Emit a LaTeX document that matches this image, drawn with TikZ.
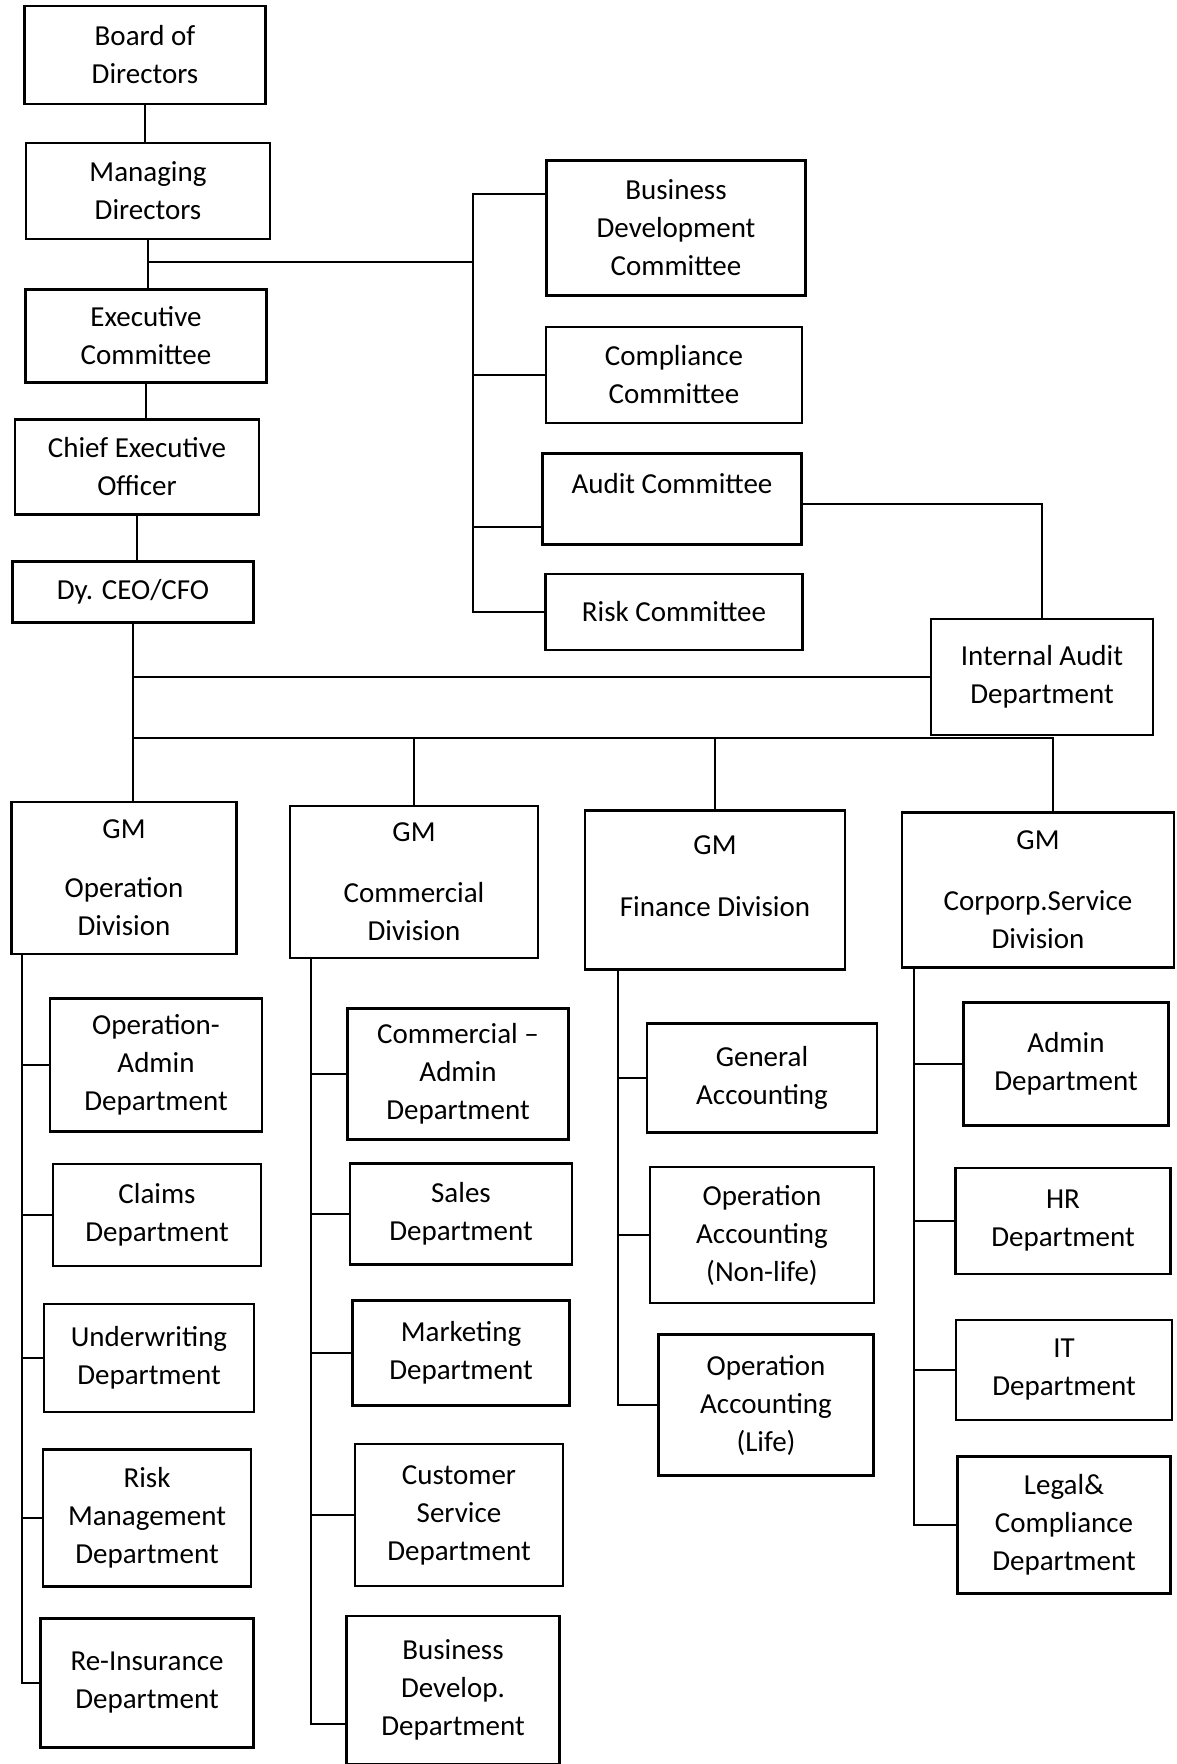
\documentclass[tikz,border=0pt]{standalone}
\usepackage{fontspec}
\setmainfont{Carlito}
\usepackage{tikz}

\begin{document}
\begin{tikzpicture}[x=1pt,y=-1pt,
    box/.style={draw,line width=2.6pt,align=center,inner sep=0pt,font=\fontsize{29}{38}\selectfont},
    wire/.style={line width=1.8pt}]
        \useasboundingbox (0,0) rectangle (1176,1764);
        \node[box,minimum width=241pt,minimum height=98pt] (bod) at (145,55) {Board of\\Directors};
        \node[box,minimum width=244pt,minimum height=96pt] (md) at (148,191) {Managing\\Directors};
        \node[box,minimum width=241pt,minimum height=93pt] (exec) at (146,336) {Executive\\Committee};
        \node[box,minimum width=244pt,minimum height=95pt] (ceo) at (137,467) {Chief Executive\\Officer};
        \node[box,minimum width=241pt,minimum height=61pt] (dyceo) at (133,592) {Dy. CEO/CFO};
        \node[box,minimum width=259pt,minimum height=135pt] (bdc) at (676,228) {Business\\Development\\Committee};
        \node[box,minimum width=256pt,minimum height=96pt] (comp) at (674,375) {Compliance\\Committee};
        \node[box,minimum width=259pt,minimum height=91pt,text depth=32pt] (audit) at (672,499) {Audit Committee};
        \node[box,minimum width=257pt,minimum height=76pt] (riskc) at (674,612) {Risk Committee};
        \node[box,minimum width=222pt,minimum height=116pt] (ia) at (1042,677) {Internal Audit\\Department};
        \node[box,minimum width=225pt,minimum height=152pt] (gmop) at (124,878) {GM\\[21pt]Operation\\Division};
        \node[box,minimum width=248pt,minimum height=152pt] (gmcom) at (414,882) {GM\\[23pt]Commercial\\Division};
        \node[box,minimum width=260pt,minimum height=159pt,text depth=28pt] (gmfin) at (715,890) {GM\\[24pt]Finance Division};
        \node[box,minimum width=272pt,minimum height=155pt] (gmcorp) at (1038,890) {GM\\[23pt]Corporp.Service\\Division};
        \node[box,minimum width=212pt,minimum height=133pt] (opadmin) at (156,1065) {Operation-\\Admin\\Department};
        \node[box,minimum width=208pt,minimum height=102pt] (claims) at (157,1215) {Claims\\Department};
        \node[box,minimum width=210pt,minimum height=108pt] (uw) at (149,1358) {Underwriting\\Department};
        \node[box,minimum width=208pt,minimum height=137pt] (riskm) at (147,1518) {Risk\\Management\\Department};
        \node[box,minimum width=213pt,minimum height=129pt] (reins) at (147,1683) {Re-Insurance\\Department};
        \node[box,minimum width=221pt,minimum height=131pt] (comadmin) at (458,1074) {Commercial –\\Admin\\Department};
        \node[box,minimum width=222pt,minimum height=101pt] (sales) at (461,1214) {Sales\\Department};
        \node[box,minimum width=217pt,minimum height=105pt] (mkt) at (461,1353) {Marketing\\Department};
        \node[box,minimum width=208pt,minimum height=142pt] (cs) at (459,1515) {Customer\\Service\\Department};
        \node[box,minimum width=213pt,minimum height=148pt] (bdev) at (453,1690) {Business\\Develop.\\Department};
        \node[box,minimum width=230pt,minimum height=109pt] (ga) at (762,1078) {General\\Accounting};
        \node[box,minimum width=224pt,minimum height=136pt] (oanl) at (762,1235) {Operation\\Accounting\\(Non-life)};
        \node[box,minimum width=215pt,minimum height=141pt] (oal) at (766,1405) {Operation\\Accounting\\(Life)};
        \node[box,minimum width=205pt,minimum height=123pt] (adm) at (1066,1064) {Admin\\Department};
        \node[box,minimum width=215pt,minimum height=106pt] (hr) at (1063,1221) {HR\\Department};
        \node[box,minimum width=216pt,minimum height=100pt] (it) at (1064,1370) {IT\\Department};
        \node[box,minimum width=213pt,minimum height=137pt] (legal) at (1064,1525) {Legal\&\\Compliance\\Department};
        \coordinate (cbus) at (473,262);
        \coordinate (gmbus) at (133,738);
        \draw[wire] (bod.south) -- (bod.south |- md.north);
        \draw[wire] (md.south) -- (md.south |- exec.north);
        \draw[wire] (exec.south) -- (exec.south |- ceo.north);
        \draw[wire] (ceo.south) -- (ceo.south |- dyceo.north);
        \draw[wire] (md.south |- cbus) -- (cbus);
        \draw[wire] ([yshift=34pt]bdc.west) -| (cbus) |- (riskc.west);
        \draw[wire] (comp.west) -- (comp.west -| cbus);
        \draw[wire] ([yshift=-28pt]audit.west) -- ([yshift=-28pt]audit.west -| cbus);
        \draw[wire] ([yshift=-5pt]audit.east) -| (ia.north);
        \draw[wire] (dyceo.south) -- (dyceo.south |- gmop.north);
        \draw[wire] (ia.west) -- (ia.west -| dyceo.south);
        \draw[wire] (gmbus) -| ([xshift=15pt]gmcorp.north);
        \draw[wire] (gmbus -| gmcom.north) -- (gmcom.north);
        \draw[wire] (gmbus -| gmfin.north) -- (gmfin.north);
        \coordinate (opcol) at ([xshift=12pt]gmop.south west);
        \coordinate (comcol) at ([xshift=22pt]gmcom.south west);
        \coordinate (fincol) at ([xshift=34pt]gmfin.south west);
        \coordinate (corpcol) at ([xshift=13pt]gmcorp.south west);
        \draw[wire] (opcol) |- (reins.west);
        \foreach \n in {opadmin,claims,uw,riskm}
            \draw[wire] (opcol |- \n.west) -- (\n.west);
        \draw[wire] (comcol) |- ([yshift=-34pt]bdev.west);
        \foreach \n in {comadmin,sales,mkt,cs}
            \draw[wire] (comcol |- \n.west) -- (\n.west);
        \draw[wire] (fincol) |- (oal.west);
        \foreach \n in {ga,oanl}
            \draw[wire] (fincol |- \n.west) -- (\n.west);
        \draw[wire] (corpcol) |- (legal.west);
        \foreach \n in {adm,hr,it}
            \draw[wire] (corpcol |- \n.west) -- (\n.west);
    \end{tikzpicture}
\end{document}
